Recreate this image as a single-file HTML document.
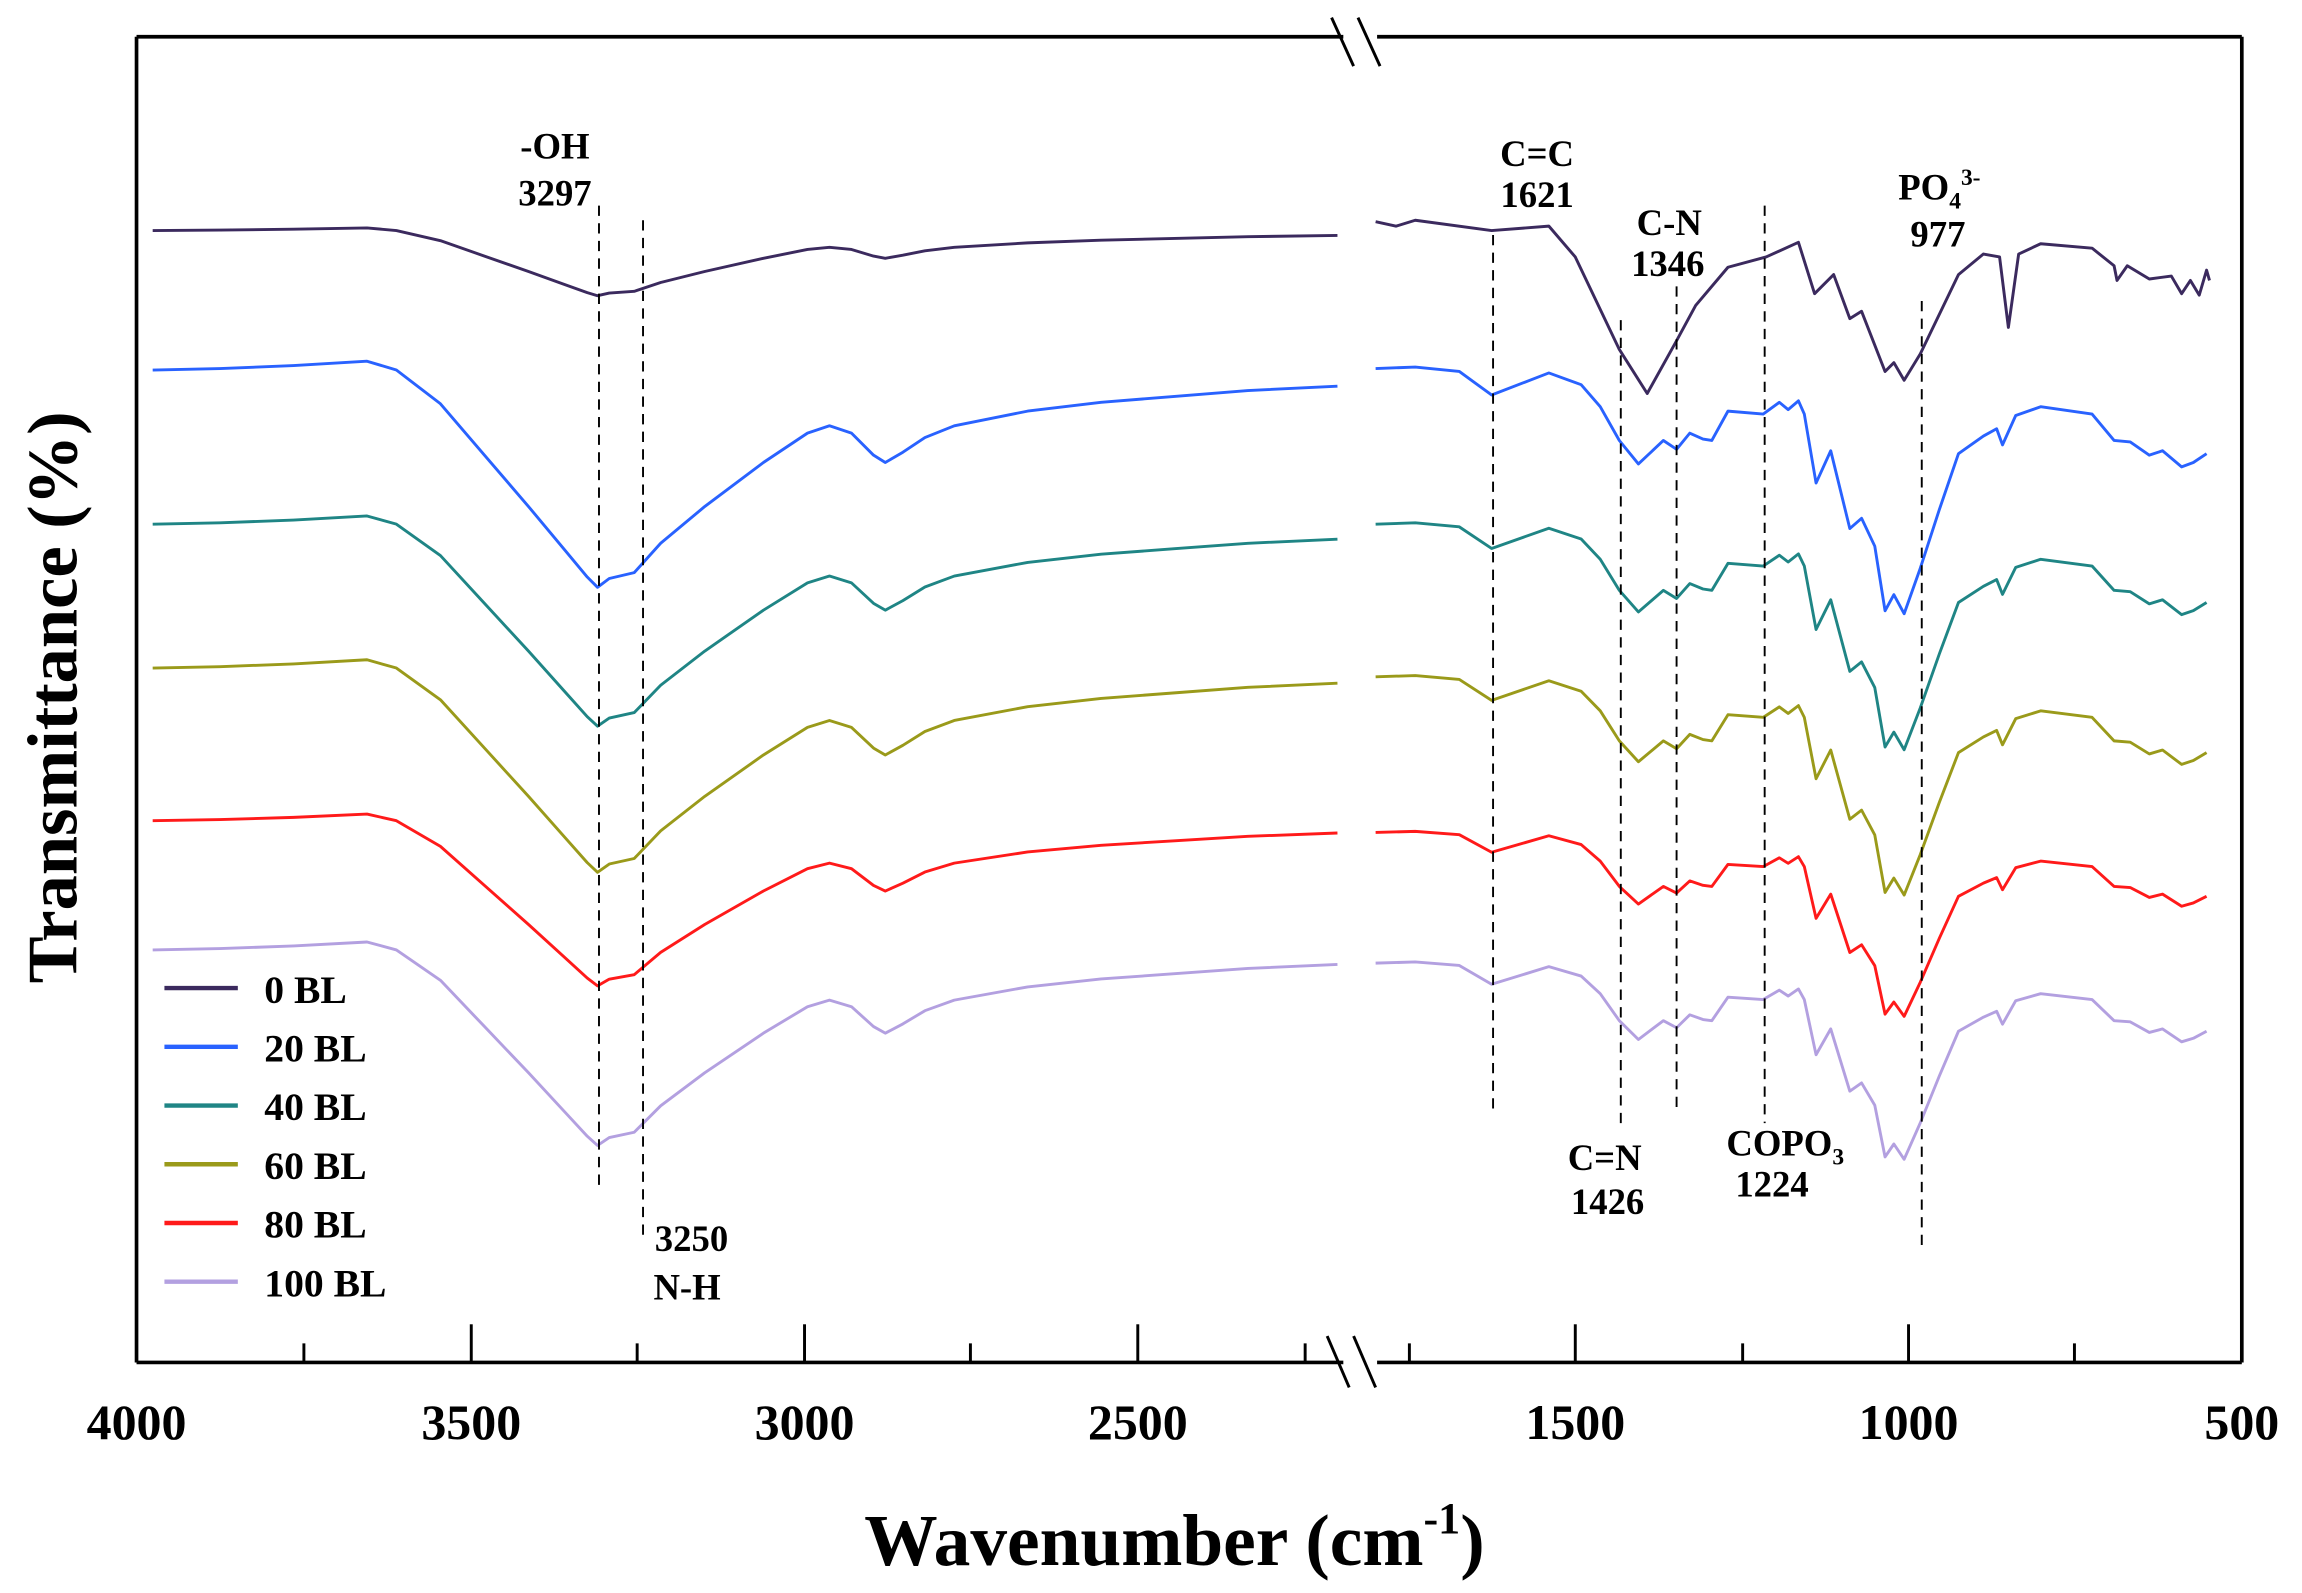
<!DOCTYPE html>
<html><head><meta charset="utf-8"><style>
html,body{margin:0;padding:0;background:#fff;}
svg{display:block;}
text{font-family:"Liberation Serif",serif;font-weight:bold;fill:#000;}
use{stroke-width:2.9;}
</style></head><body>
<svg width="2302" height="1593" viewBox="0 0 1568 1085" xmlns="http://www.w3.org/2000/svg">
<defs>
<path id="L20" vector-effect="non-scaling-stroke" d="M104,252 L150,251 L200,249 L250,246 L270,252 L300,275 L330,310 L360,345 L385,375 L400,393 L407,400 L415,394 L432,390 L450,370 L480,345 L520,315 L550,295 L565,290 L580,295 L595,310 L603,315 L615,308 L630,298 L650,290 L700,280 L750,274 L800,270 L850,266 L911,263"/>
<path id="R20" vector-effect="non-scaling-stroke" d="M937,251 L964,250 L994,253 L1016,269 L1055,254 L1077,262 L1090,277 L1103,300 L1116,316 L1133,300 L1142,306 L1151,295 L1160,299 L1166,300 L1177,280 L1201,282 L1212,274 L1218,279 L1225,273 L1229,282 L1237,329 L1247,307 L1260,360 L1268,353 L1277,372 L1284,416 L1290,405 L1297,418 L1308,387 L1321,347 L1334,309 L1351,297 L1360,292 L1364,303 L1373,283 L1390,277 L1425,282 L1440,300 L1451,301 L1464,310 L1473,307 L1486,318 L1494,315 L1503,309"/>
</defs>
<g fill="none" stroke-linejoin="round">
<g stroke="#3b2a5e">
<use href="#L20" transform="translate(0,157) scale(1,0.3) translate(0,-252)"/>
<path stroke-width="2" d="M937,151 L951,154 L964,150 L1016,157 L1055,154 L1073,175 L1103,238 L1122,268 L1142,232 L1155,208 L1177,182 L1203,175 L1225,165 L1236,200 L1249,187 L1260,217 L1268,212 L1284,253 L1290,247 L1297,259 L1308,241 L1334,187 L1351,173 L1362,175 L1368,223 L1375,173 L1390,166 L1425,169 L1440,181 L1442,191 L1449,181 L1464,190 L1479,188 L1486,200 L1492,191 L1498,201 L1503,184 L1505,191"/>
</g>
<g stroke="#2962ff"><use href="#L20"/><use href="#R20"/></g>
<g stroke="#1f8585">
<use href="#L20" transform="translate(0,357) scale(1,0.93) translate(0,-252)"/>
<use href="#R20" transform="translate(0,357) scale(1,0.92) translate(0,-251)"/>
</g>
<g stroke="#9a9a1a">
<use href="#L20" transform="translate(0,455) scale(1,0.94) translate(0,-252)"/>
<use href="#R20" transform="translate(0,461) scale(1,0.89) translate(0,-251)"/>
</g>
<g stroke="#ff1a1a">
<use href="#L20" transform="translate(0,559) scale(1,0.76) translate(0,-252)"/>
<use href="#R20" transform="translate(0,567) scale(1,0.75) translate(0,-251)"/>
</g>
<g stroke="#b3a0e0">
<use href="#L20" transform="translate(0,647) scale(1,0.9) translate(0,-252)"/>
<use href="#R20" transform="translate(0,656) scale(1,0.8) translate(0,-251)"/>
</g>
</g>
<g stroke="#000" stroke-width="1.3" stroke-dasharray="7,5">
<line x1="408" y1="140" x2="408" y2="810"/>
<line x1="438" y1="150" x2="438" y2="845"/>
<line x1="1017" y1="160" x2="1017" y2="758"/>
<line x1="1104" y1="218" x2="1104" y2="765"/>
<line x1="1142" y1="195" x2="1142" y2="758"/>
<line x1="1202" y1="140" x2="1202" y2="765"/>
<line x1="1309" y1="205" x2="1309" y2="853"/>
</g>
<g stroke="#000" stroke-width="2.5" fill="none">
<line x1="93" y1="25" x2="93" y2="928"/>
<line x1="1527" y1="25" x2="1527" y2="928"/>
<line x1="93" y1="25" x2="915" y2="25"/>
<line x1="938" y1="25" x2="1527" y2="25"/>
<line x1="93" y1="928" x2="915" y2="928"/>
<line x1="938" y1="928" x2="1527" y2="928"/>
</g>
<g stroke="#000" stroke-width="2">
<line x1="907" y1="12" x2="922" y2="45"/><line x1="925" y1="12" x2="940" y2="45"/>
<line x1="904" y1="910" x2="919" y2="945"/><line x1="922" y1="910" x2="937" y2="945"/>
<line x1="207" y1="928" x2="207" y2="915"/><line x1="321" y1="928" x2="321" y2="902"/>
<line x1="434" y1="928" x2="434" y2="915"/><line x1="548" y1="928" x2="548" y2="902"/>
<line x1="661" y1="928" x2="661" y2="915"/><line x1="775" y1="928" x2="775" y2="902"/>
<line x1="889" y1="928" x2="889" y2="915"/><line x1="960" y1="928" x2="960" y2="915"/>
<line x1="1073" y1="928" x2="1073" y2="902"/><line x1="1187" y1="928" x2="1187" y2="915"/>
<line x1="1300" y1="928" x2="1300" y2="902"/><line x1="1413" y1="928" x2="1413" y2="915"/>
</g>
<g font-size="34" text-anchor="middle">
<text x="93" y="980">4000</text><text x="321" y="980">3500</text><text x="548" y="980">3000</text>
<text x="775" y="980">2500</text><text x="1073" y="980">1500</text><text x="1300" y="980">1000</text>
<text x="1527" y="980">500</text>
</g>
<text x="800" y="1066" font-size="50" text-anchor="middle">Wavenumber (cm<tspan font-size="30" dy="-22">-1</tspan><tspan dy="22">)</tspan></text>
<text transform="translate(52,475) rotate(-90)" font-size="48" text-anchor="middle">Transmittance (%)</text>
<g stroke-width="3">
<line x1="112" y1="673" x2="162" y2="673" stroke="#3b2a5e"/>
<line x1="112" y1="713" x2="162" y2="713" stroke="#2962ff"/>
<line x1="112" y1="753" x2="162" y2="753" stroke="#1f8585"/>
<line x1="112" y1="793" x2="162" y2="793" stroke="#9a9a1a"/>
<line x1="112" y1="833" x2="162" y2="833" stroke="#ff1a1a"/>
<line x1="112" y1="873" x2="162" y2="873" stroke="#b3a0e0"/>
</g>
<g font-size="27">
<text x="180" y="683">0 BL</text><text x="180" y="723">20 BL</text><text x="180" y="763">40 BL</text>
<text x="180" y="803">60 BL</text><text x="180" y="843">80 BL</text><text x="180" y="883">100 BL</text>
</g>
<g font-size="25" text-anchor="middle">
<text x="378" y="108">-OH</text><text x="378" y="140">3297</text>
<text x="1047" y="113">C=C</text><text x="1047" y="141">1621</text>
<text x="1137" y="160">C-N</text><text x="1136" y="188">1346</text>
<text x="1321" y="136">PO<tspan font-size="16" dy="6">4</tspan><tspan font-size="16" dy="-16">3-</tspan></text><text x="1320" y="168">977</text>
<text x="1093" y="797">C=N</text><text x="1095" y="827">1426</text>
<text x="1216" y="787">COPO<tspan font-size="16" dy="6">3</tspan></text><text x="1207" y="815">1224</text>
<text x="471" y="852">3250</text><text x="468" y="885">N-H</text>
</g>
</svg>
</body></html>
